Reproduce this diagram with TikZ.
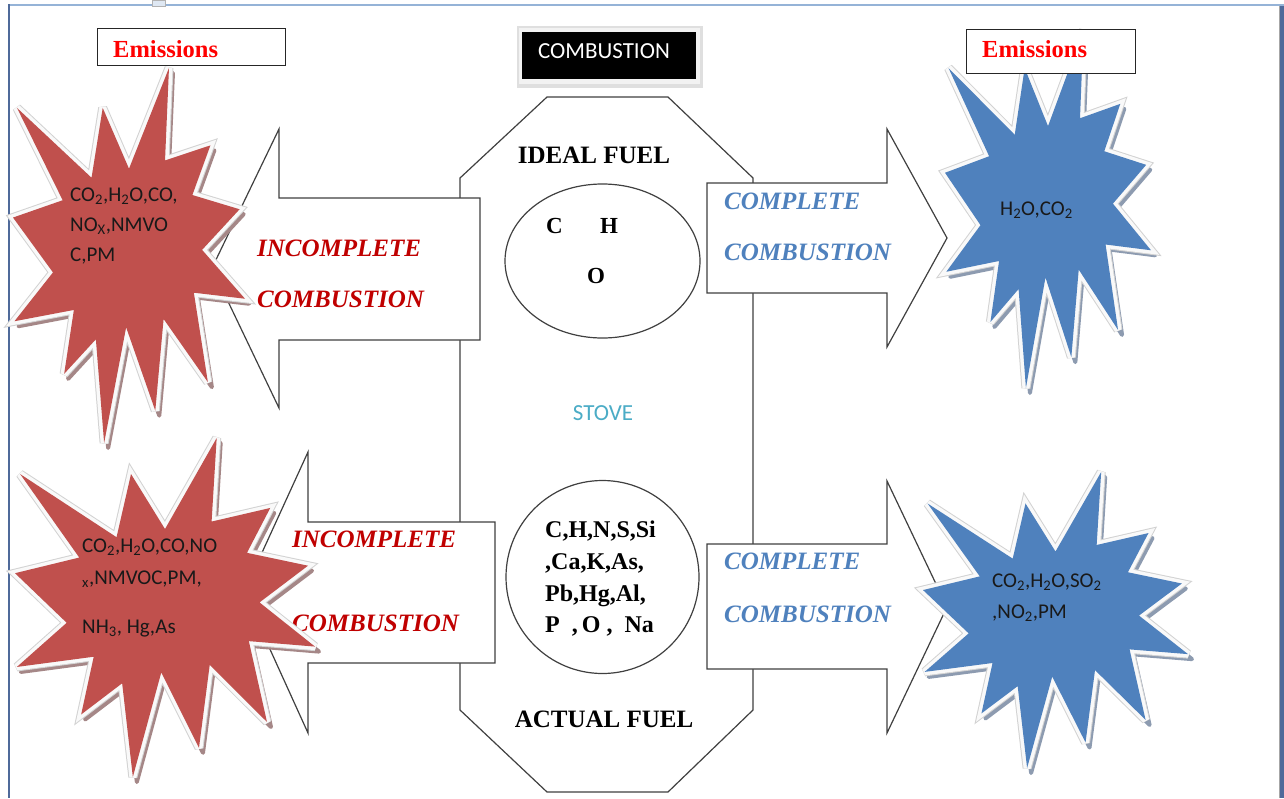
\documentclass[tikz,border=0pt]{standalone}
\usepackage{fontspec}
\setmainfont{Liberation Serif}
\newfontfamily\calibri{Carlito}
\usetikzlibrary{shapes.geometric}
\definecolor{burstred}{HTML}{C0504D}
\definecolor{burstblue}{HTML}{4F81BD}
\definecolor{redshadow}{HTML}{A58787}
\definecolor{blueshadow}{HTML}{8D9BB0}
\definecolor{incred}{HTML}{C00000}
\definecolor{compblue}{HTML}{4F81BD}
\definecolor{stovecol}{HTML}{4BACC6}
\definecolor{emred}{HTML}{FF0000}
\definecolor{frametop}{HTML}{95B3D7}
\definecolor{frameside}{HTML}{4F6A9A}
\definecolor{linecol}{HTML}{404040}
\newcommand{\burstpath}{(0.5,0.2685) -- (0.6723,0) -- (0.6553,0.2465) -- (0.8509,0.2063) -- (0.7732,0.3387) -- (0.9767,0.3767) -- (0.8151,0.4850) -- (1,0.6153) -- (0.7795,0.5992) -- (0.8400,0.8377) -- (0.6491,0.6693) -- (0.6133,0.9138) -- (0.4876,0.6914) -- (0.3928,1) -- (0.3572,0.7235) -- (0.2205,0.8156) -- (0.2624,0.6452) -- (0.0063,0.6753) -- (0.1723,0.5451) -- (0,0.3988) -- (0.2142,0.3526) -- (0.0171,0.1063) -- (0.3385,0.2926) -- (0.3867,0.1063) -- cycle}
\newcommand{\burstshape}[6]{%
  \begin{scope}[shift={(#1+4,#2+5)},x=#3pt,y=-#4pt]
    \path[fill=#6,draw=#6,line width=4pt,line join=round] \burstpath;
  \end{scope}
  \begin{scope}[shift={(#1,#2)},x=#3pt,y=-#4pt]
    \path[draw=gray!35,line width=9pt,line join=miter,miter limit=3] \burstpath;
    \path[draw=white!95!gray,line width=7pt,line join=miter,miter limit=3] \burstpath;
    \path[fill=#5] \burstpath;
  \end{scope}}
\tikzset{
  arrowshape/.style={fill=white,draw=linecol,line width=1.2pt,line join=miter},
  serifbold/.style={font=\fontsize{25}{25}\selectfont\bfseries,inner sep=0pt},
  inctext/.style={font=\fontsize{25}{51}\selectfont\bfseries\itshape,text=incred,inner sep=0pt,align=left,anchor=north west},
  comptext/.style={font=\fontsize{25}{51}\selectfont\bfseries\itshape,text=compblue,inner sep=0pt,align=left,anchor=north west},
  bursttext/.style={font=\calibri\fontsize{21}{30}\selectfont,text=black!90,inner sep=0pt,align=left,anchor=north west},
  emlabel/.style={font=\fontsize{24.5}{24.5}\selectfont\bfseries,text=emred,inner sep=0pt,anchor=base west},
  embox/.style={draw=black!85,line width=1.2pt,fill=white,minimum width=188pt,minimum height=37pt,anchor=north west,inner sep=0pt}
}
\begin{document}
\begin{tikzpicture}[x=1pt,y=-1pt]
\useasboundingbox (0,0) rectangle (1284,798);
\fill[white] (0,0) rectangle (1284,798);
% frame
\draw[frametop,line width=2.5pt] (8,5) -- (1284,5);
\draw[frameside,line width=2.5pt] (9,4) -- (9,798);
\fill[frameside] (1280,6) rectangle (1284,798);
\draw[gray!70,line width=1pt] (1279,6) -- (1279,798);
\draw[gray!60,fill=frametop!30,line width=0.8pt] (152,0) rectangle (165,6);
% stove octagon
\draw[linecol,line width=1.2pt,fill=white] (547,97) -- (668,97) -- (753,178) -- (753,710) -- (668,792) -- (547,792) -- (460,710) -- (460,178) -- cycle;
% arrows
\draw[arrowshape] (480,198) -- (279,198) -- (279,129) -- (212,268) -- (279,408) -- (279,340) -- (480,340) -- cycle;
\draw[arrowshape] (495,522) -- (308,522) -- (308,452) -- (244,592) -- (308,733) -- (308,663) -- (495,663) -- cycle;
\draw[arrowshape] (707,183) -- (887,183) -- (887,129) -- (947,238) -- (887,347) -- (887,293) -- (707,293) -- cycle;
\draw[arrowshape] (707,544) -- (887,544) -- (887,481) -- (947,607) -- (887,733) -- (887,669) -- (707,669) -- cycle;
% fuels
\node[ellipse,draw=linecol,line width=1.2pt,minimum width=195pt,minimum height=154pt,inner sep=0pt] (idealell) at (602.5,261) {};
\node[circle,draw=linecol,line width=1.2pt,minimum size=193pt,inner sep=0pt] (actualcirc) at (602.5,577) {};
\node[serifbold,anchor=base] (ideal) at (594,163) {IDEAL FUEL};
\node[serifbold,anchor=base] (actual) at (604,727) {ACTUAL FUEL};
\node[font=\fontsize{23}{23}\selectfont\bfseries,inner sep=0pt,anchor=base west] (cC) at (546,233) {C};
\node[font=\fontsize{23}{23}\selectfont\bfseries,inner sep=0pt,anchor=base west] (cH) at (600,233) {H};
\node[font=\fontsize{23}{23}\selectfont\bfseries,inner sep=0pt,anchor=base west] (cO) at (587,283) {O};
\node[font=\fontsize{24}{31.7}\selectfont\bfseries,inner sep=0pt,align=left,anchor=north west] (elements) at (545,521) {C,H,N,S,Si\\,Ca,K,As,\\Pb,Hg,Al,\\P~~,\,O~,~~Na};
\node[font=\calibri\fontsize{23}{23}\selectfont,text=stovecol,inner sep=0pt,anchor=base] (stove) at (603,420) {STOVE};
% arrow texts
\node[inctext] (incA) at (257,239.5) {INCOMPLETE\\COMBUSTION};
\node[inctext,font=\fontsize{25}{84}\selectfont\bfseries\itshape] (incB) at (292,530.5) {INCOMPLETE\\COMBUSTION};
\node[comptext] (compA) at (724,192.5) {COMPLETE\\COMBUSTION};
\node[comptext,font=\fontsize{25}{53}\selectfont\bfseries\itshape] (compB) at (724,552.5) {COMPLETE\\COMBUSTION};
% starbursts
\burstshape{13}{68}{232}{375}{burstred}{redshadow}
\node[bursttext] (emA) at (70,187.5) {CO\textsubscript{2},H\textsubscript{2}O,CO,\\NO\textsubscript{X},NMVO\\C,PM};
\burstshape{15}{438}{300}{339}{burstred}{redshadow}
\node[bursttext,font=\calibri\fontsize{21}{32}\selectfont] (emB) at (82,538.5) {CO\textsubscript{2},H\textsubscript{2}O,CO,NO\\\textsubscript{x},NMVOC,PM,\\[17pt]NH\textsubscript{3}, Hg,As};
\burstshape{945}{30}{206}{358}{burstblue}{blueshadow}
\node[bursttext] (emC) at (1000,201.5) {H\textsubscript{2}O,CO\textsubscript{2}};
\burstshape{923}{472}{265}{296}{burstblue}{blueshadow}
\node[bursttext,font=\calibri\fontsize{21}{31}\selectfont] (emD) at (992,573.5) {CO\textsubscript{2},H\textsubscript{2}O,SO\textsubscript{2}\\,NO\textsubscript{2},PM};
% emissions boxes
\node[embox] (emboxL) at (97,28) {};
\node[emlabel] (emlabL) at (113,57) {Emissions};
\node[embox,minimum width=169pt,minimum height=44pt] (emboxR) at (966,28.5) {};
\node[emlabel] (emlabR) at (982,57) {Emissions};
% combustion title
\fill[gray!25] (517,26) rectangle (703,88);
\fill[gray!10] (519,28) rectangle (700,84);
\node[fill=black,minimum width=174pt,minimum height=47pt,inner sep=0pt,anchor=north west] (titlebox) at (522,32) {};
\node[font=\calibri\fontsize{23}{23}\selectfont,text=white,inner sep=0pt,anchor=base] (title) at (604,58) {COMBUSTION};
\end{tikzpicture}
\end{document}
